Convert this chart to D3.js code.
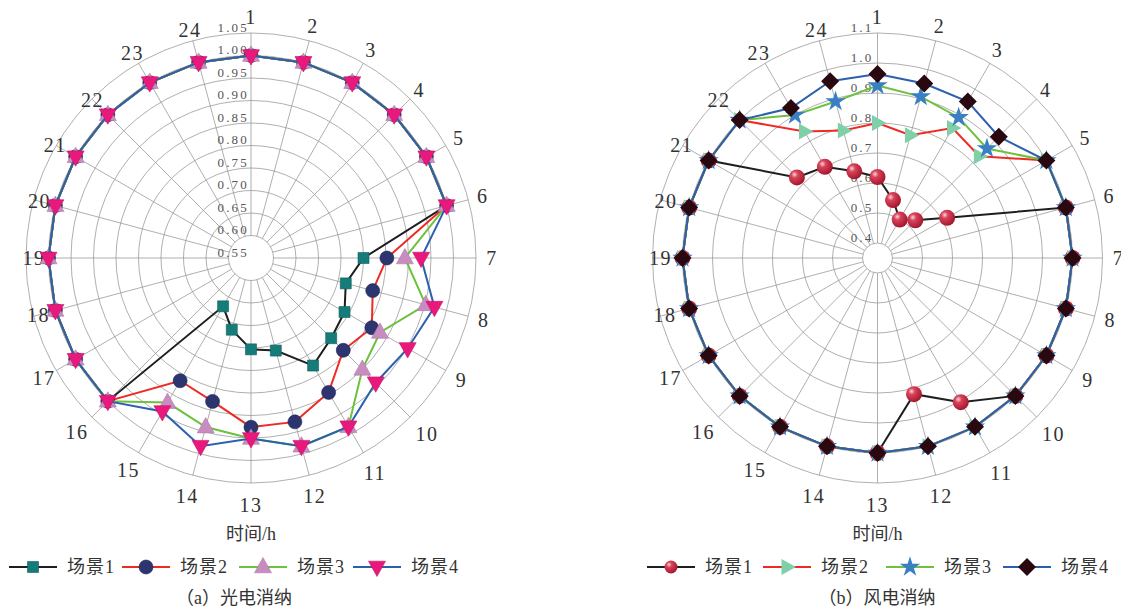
<!DOCTYPE html>
<html><head><meta charset="utf-8">
<script src="https://cdn.jsdelivr.net/npm/d3@7"></script>
<style>
body{margin:0;background:#fff}
svg{display:block}
</style></head><body>
<svg id="chart" width="1121" height="611"></svg>
<script>
// ---------- DATA ----------
const hours = d3.range(1, 25);               // 1..24
const hourLabels = hours.map(String);
const legendNames = ["场景1", "场景2", "场景3", "场景4"];
const axisTitle = "时间/h";
const captionA = "（a）光电消纳";
const captionB = "（b）风电消纳";

// (a) PV accommodation
const pvTicks = [0.55, 0.60, 0.65, 0.70, 0.75, 0.80, 0.85, 0.90, 0.95, 1.00, 1.05];
const pvS1 = [1,1,1,1,1,1, 0.800,0.768,0.790,0.802,0.826,0.763,0.753,0.715,0.674, 1,1,1,1,1,1,1,1,1];
const pvS2 = [1,1,1,1,1,1, 0.852,0.830,0.860,0.840,0.895,0.927,0.926,0.880,0.865, 1,1,1,1,1,1,1,1,1];
const pvS3 = [1,1,1,1,1,1, 0.892,0.952,0.881,0.900,0.983,0.983,0.951,0.939,0.921, 1,1,1,1,1,1,1,1,1];
const pvS4 = [1,1,1,1,1,1, 0.928,0.972,0.952,0.942,0.983,0.983,0.951,0.983,0.944, 1,1,1,1,1,1,1,1,1];

// (b) wind accommodation
const wdTicks = [0.4, 0.5, 0.6, 0.7, 0.8, 0.9, 1.0, 1.1];
const wdS1 = [0.620,0.550,0.498,0.528,0.618, 1,1,1,1,1, 0.905,0.820, 1,1,1,1,1,1,1,1,1, 0.730,0.701,0.649];
const wdS2 = [0.800,0.774,0.850,0.830, 1,1,1,1,1,1,1,1,1,1,1,1,1,1,1,1,1, 1,0.837,0.790];
const wdS3 = [0.925,0.907,0.891,0.866, 1,1,1,1,1,1,1,1,1,1,1,1,1,1,1,1,1, 1,0.900,0.890];
const wdS4 = [0.963,0.952,0.952,0.922, 1,1,1,1,1,1,1,1,1,1,1,1,1,1,1,1,1, 1,0.927,0.960];

// ---------- STYLE ----------
const svg = d3.select("#chart");
const defs = svg.append("defs");
const ball = defs.append("radialGradient").attr("id","ball").attr("cx","35%").attr("cy","32%").attr("r","70%");
ball.append("stop").attr("offset","0%").attr("stop-color","#f6d6dc");
ball.append("stop").attr("offset","30%").attr("stop-color","#d8435a");
ball.append("stop").attr("offset","100%").attr("stop-color","#a3162c");

const latin = "'Liberation Serif','DejaVu Serif',serif";
const cjk = "'Liberation Serif','Noto Sans CJK SC',sans-serif";

// distance of the hour labels from the centre (as laid out in the original figure)
const labelRadius = [241,240,240,238,240,240,241,241,243,249,248,246,247,246,245,246,239,220,217,219,226,224,237,236];

function markerPath(kind, size) {
  const s = size;
  switch (kind) {
    case "square": return `M${-s/2},${-s/2}H${s/2}V${s/2}H${-s/2}Z`;
    case "triUp": { const h = s*0.9; return `M0,${-h*0.62}L${s/2},${h*0.38}L${-s/2},${h*0.38}Z`; }
    case "triDown": { const h = s*0.9; return `M0,${h*0.62}L${s/2},${-h*0.38}L${-s/2},${-h*0.38}Z`; }
    case "triRight": { const h = s*0.9; return `M${h*0.62},0L${-h*0.38},${s/2}L${-h*0.38},${-s/2}Z`; }
    case "diamond": return `M0,${-s/2}L${s/2},0L0,${s/2}L${-s/2},0Z`;
    case "star": return d3.symbol().type(d3.symbolStar).size(s*s*0.4)();
    default: return null;
  }
}

function drawMarker(g, kind, size, fill, stroke) {
  if (kind === "circle" || kind === "ball") {
    return g.append("circle").attr("r", size/2)
      .attr("fill", kind === "ball" ? "url(#ball)" : fill)
      .attr("stroke", stroke || "none").attr("stroke-width", 0.6);
  }
  return g.append("path").attr("d", markerPath(kind, size))
    .attr("fill", fill).attr("stroke", stroke || "none").attr("stroke-width", 0.6);
}

function polarChart(cfg) {
  const g = svg.append("g").attr("transform", `translate(${cfg.cx},${cfg.cy})`);
  const r = d3.scaleLinear().domain(cfg.domain).range([0, cfg.R]);
  const ang = d3.scaleLinear().domain([1, 25]).range([0, 2*Math.PI]);
  const hole = r(cfg.holeVal);

  // rings
  g.append("g").selectAll("circle").data(cfg.rings).join("circle")
    .attr("r", d => r(d)).attr("fill", "none").attr("stroke", "#9a9a9a").attr("stroke-width", 0.8);
  // spokes
  g.append("g").selectAll("line").data(hours).join("line")
    .attr("x1", d => hole*Math.sin(ang(d))).attr("y1", d => -hole*Math.cos(ang(d)))
    .attr("x2", d => cfg.R*Math.sin(ang(d))).attr("y2", d => -cfg.R*Math.cos(ang(d)))
    .attr("stroke", "#9a9a9a").attr("stroke-width", 0.8);

  // radial tick labels
  g.append("g").selectAll("text").data(cfg.ticks).join("text")
    .attr("x", cfg.tickDx).attr("y", d => -r(d) - 6)
    .attr("text-anchor", "end").attr("dominant-baseline", "central")
    .attr("font-family", latin).attr("font-size", 13).attr("letter-spacing", cfg.tickLs)
    .attr("fill", "#555").text(d => d.toFixed(cfg.tickDigits));

  // hour labels
  g.append("g").selectAll("text").data(hours).join("text")
    .attr("x", (d,i) => labelRadius[i]*Math.sin(ang(d)))
    .attr("y", (d,i) => -labelRadius[i]*Math.cos(ang(d)))
    .attr("text-anchor", "middle").attr("dominant-baseline", "central")
    .attr("font-family", latin).attr("font-size", 20).attr("letter-spacing", 1.5)
    .attr("fill", "#333").text((d,i) => hourLabels[i]);

  // series
  const line = d3.lineRadial().angle((d,i) => ang(hours[i])).radius(d => r(d)).curve(d3.curveLinearClosed);
  cfg.series.forEach(s => {
    g.append("path").datum(s.values).attr("d", line)
      .attr("fill", "none").attr("stroke", s.line).attr("stroke-width", 2);
    const mg = g.append("g");
    s.values.forEach((v, i) => {
      const a = ang(hours[i]);
      const m = mg.append("g").attr("transform", `translate(${r(v)*Math.sin(a)},${-r(v)*Math.cos(a)})`);
      drawMarker(m, s.marker, s.size, s.fill, s.stroke);
    });
  });

  // axis title
  svg.append("text").attr("x", cfg.cx).attr("y", 534)
    .attr("text-anchor", "middle").attr("dominant-baseline", "central")
    .attr("font-family", cjk).attr("font-size", 18).attr("fill", "#333").text(axisTitle);

  // legend
  const lg = svg.append("g").attr("transform", `translate(0,567)`);
  cfg.series.forEach((s, i) => {
    const x0 = cfg.legendX[i];
    lg.append("line").attr("x1", x0).attr("x2", x0 + 48).attr("y1", 0).attr("y2", 0)
      .attr("stroke", s.line).attr("stroke-width", 2);
    const m = lg.append("g").attr("transform", `translate(${x0 + 24},0)`);
    drawMarker(m, s.marker, s.legendSize, s.fill, s.stroke);
    lg.append("text").attr("x", x0 + 58).attr("y", 0).attr("dominant-baseline", "central")
      .attr("font-family", cjk).attr("font-size", 18).attr("letter-spacing", 1)
      .attr("fill", "#333").text(legendNames[i]);
  });

  svg.append("text").attr("x", cfg.captionX).attr("y", 598)
    .attr("text-anchor", "middle").attr("dominant-baseline", "central")
    .attr("font-family", cjk).attr("font-size", 18).attr("fill", "#333").text(cfg.caption);
}

polarChart({
  cx: 251, cy: 258, R: 225,
  domain: [0.55, 1.05], holeVal: 0.60,
  rings: d3.range(0.60, 1.0501, 0.05),
  ticks: pvTicks, tickDigits: 2, tickDx: -2, tickLs: 2.2,
  caption: captionA, captionX: 234,
  legendX: [9, 122, 239, 353],
  series: [
    { values: pvS1, line: "#1e1e1e", marker: "square", size: 11, legendSize: 11, fill: "#157c7a", stroke: "#0e5e5c" },
    { values: pvS2, line: "#ee2b23", marker: "circle", size: 14, legendSize: 14, fill: "#2c3570", stroke: "#1e2550" },
    { values: pvS3, line: "#6cc13d", marker: "triUp", size: 17, legendSize: 17, fill: "#c88cc0", stroke: "#b07aa8" },
    { values: pvS4, line: "#2c5fae", marker: "triDown", size: 17, legendSize: 17, fill: "#e9197c", stroke: "#c8106a" }
  ]
});

polarChart({
  cx: 877.5, cy: 258, R: 225,
  domain: [0.35, 1.1], holeVal: 0.4,
  rings: d3.range(0.4, 1.1001, 0.1),
  ticks: wdTicks, tickDigits: 1, tickDx: -4, tickLs: 2.2,
  caption: captionB, captionX: 877,
  legendX: [647, 763, 886, 1003],
  series: [
    { values: wdS1, line: "#1e1e1e", marker: "ball", size: 16, legendSize: 13, fill: "#c8283c", stroke: "none" },
    { values: wdS2, line: "#ee2b23", marker: "triRight", size: 16, legendSize: 16, fill: "#7fd0a8", stroke: "none" },
    { values: wdS3, line: "#6cc13d", marker: "star", size: 18, legendSize: 18, fill: "#3a7fc2", stroke: "none" },
    { values: wdS4, line: "#2c5fae", marker: "diamond", size: 18, legendSize: 18, fill: "#2a0810", stroke: "none" }
  ]
});
</script>
</body></html>
